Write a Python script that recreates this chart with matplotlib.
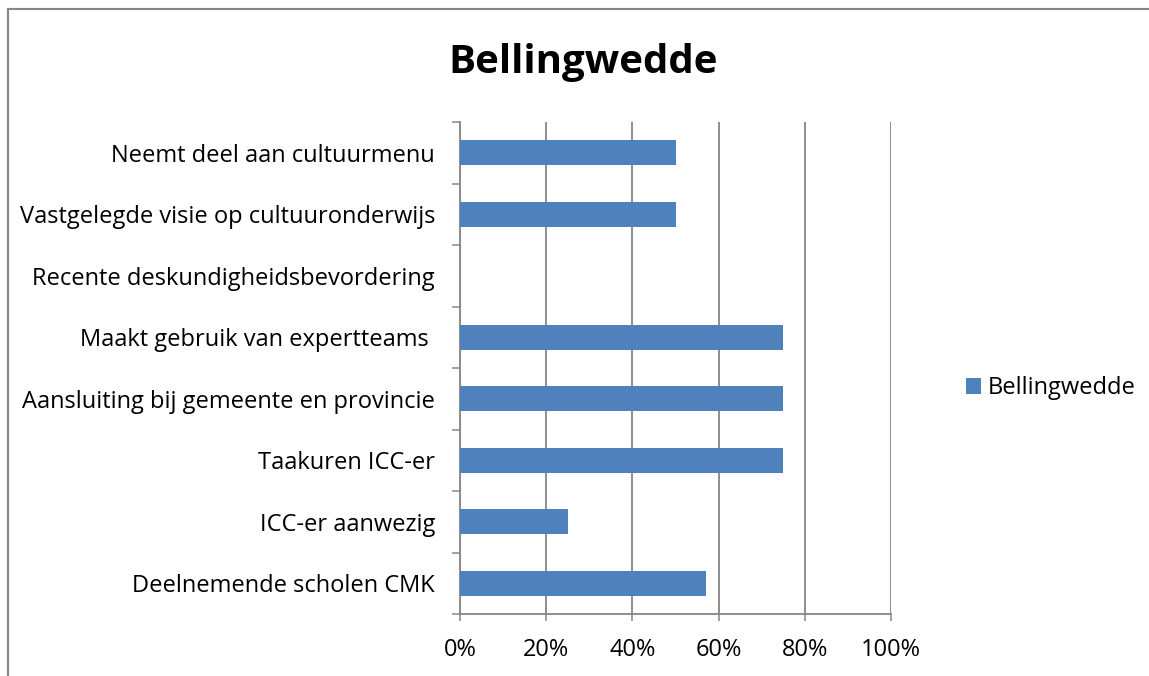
import matplotlib
matplotlib.use('Agg')
import matplotlib.pyplot as plt
from matplotlib.lines import Line2D
from matplotlib.ticker import FixedLocator, PercentFormatter

# data, listed bottom to top as drawn
categories = ['Deelnemende scholen CMK', 'ICC-er aanwezig', 'Taakuren ICC-er',
              'Aansluiting bij gemeente en provincie',
              'Maakt gebruik van expertteams ',
              'Recente deskundigheidsbevordering',
              'Vastgelegde visie op cultuuronderwijs',
              'Neemt deel aan cultuurmenu']
values = [0.57, 0.25, 0.75, 0.75, 0.75, 0.0, 0.50, 0.50]
series_name = 'Bellingwedde'
x_ticks = [0, 0.2, 0.4, 0.6, 0.8, 1.0]

bar_color = '#4F81BD'
grid_color = '#868686'
plt.rcParams['font.family'] = ['Open Sans', 'DejaVu Sans']

fig = plt.figure(figsize=(11.49, 6.76), dpi=100)
ax = fig.add_axes([460/1149, 62/676, 431/1149, 492/676])

ypos = list(range(len(categories)))
ax.barh(ypos, values, height=0.4, color=bar_color, label=series_name, zorder=3)

ax.set_xlim(0, 1)
ax.set_ylim(-0.5, len(categories) - 0.5)
ax.set_xticks(x_ticks)
ax.xaxis.set_major_formatter(PercentFormatter(1.0, decimals=0))
ax.set_yticks(ypos)
ax.set_yticklabels(categories)
ax.yaxis.set_minor_locator(FixedLocator([i - 0.5 for i in range(len(categories) + 1)]))

ax.tick_params(axis='y', which='major', length=0, pad=18, labelsize=17)
ax.tick_params(axis='y', which='minor', length=6, width=1.1, color=grid_color)
ax.tick_params(axis='x', length=5, width=1.1, color=grid_color, pad=12, labelsize=17)

ax.grid(axis='x', color=grid_color, linewidth=1.3, zorder=0)
for s in ['top', 'right']:
    ax.spines[s].set_visible(False)
for s in ['left', 'bottom']:
    ax.spines[s].set_color(grid_color)
    ax.spines[s].set_linewidth(1.3)

fig.text(583/1149, 1 - 62/676, 'Bellingwedde', ha='center', va='center',
         fontsize=29, fontweight='bold')

fig.legend(loc='center left', bbox_to_anchor=(966/1149, 1 - 388/676),
           frameon=False, fontsize=17, handlelength=0.65, handleheight=0.65,
           handletextpad=0.25, borderpad=0, borderaxespad=0)

# chart border (only left and top edges are inside the picture)
fig.add_artist(Line2D([8/1149, 8/1149], [0, 1 - 9/676], color=grid_color, linewidth=1.5))
fig.add_artist(Line2D([8/1149, 1], [1 - 9/676, 1 - 9/676], color=grid_color, linewidth=1.5))

fig.savefig('out.png', dpi=100)
